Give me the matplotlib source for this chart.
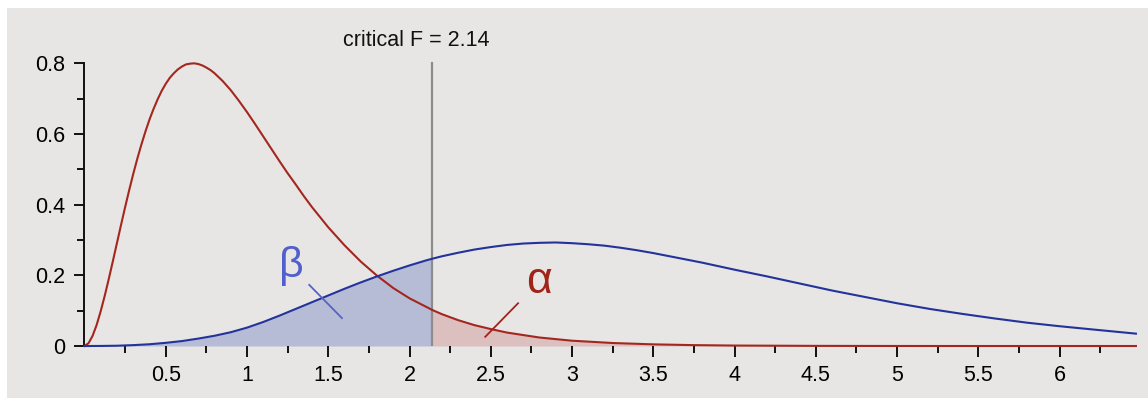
import numpy as np
import matplotlib
matplotlib.use("Agg")
import matplotlib.pyplot as plt
from matplotlib.patches import Rectangle
from matplotlib.ticker import FixedLocator

# null distribution (red) sampled along F
null_x = [0.0, 0.025, 0.05, 0.075, 0.1, 0.125, 0.15, 0.175, 0.2, 0.225, 0.25,
          0.275, 0.3, 0.325, 0.35, 0.375, 0.4, 0.425, 0.45, 0.475, 0.5, 0.525,
          0.55, 0.575, 0.6, 0.625, 0.65, 0.675, 0.7, 0.725, 0.75, 0.775, 0.8,
          0.85, 0.9, 0.95, 1.0, 1.05, 1.1, 1.15, 1.2, 1.25, 1.3, 1.35, 1.4, 1.5,
          1.6, 1.7, 1.8, 1.9, 2.0, 2.14, 2.2, 2.3, 2.4, 2.5, 2.6, 2.8, 3.0, 3.25,
          3.5, 3.75, 4.0, 4.5, 5.0, 5.5, 6.0, 6.47]
null_y = [0.0, 0.008, 0.029, 0.060, 0.099, 0.143, 0.191, 0.241, 0.292, 0.343,
          0.393, 0.441, 0.487, 0.530, 0.570, 0.607, 0.641, 0.671, 0.698, 0.722,
          0.742, 0.759, 0.772, 0.783, 0.791, 0.797, 0.799, 0.800, 0.798, 0.794,
          0.788, 0.781, 0.772, 0.750, 0.724, 0.694, 0.662, 0.628, 0.593, 0.558,
          0.523, 0.489, 0.457, 0.424, 0.393, 0.336, 0.285, 0.239, 0.199, 0.164,
          0.135, 0.102, 0.090, 0.073, 0.059, 0.048, 0.038, 0.024, 0.015, 0.0085,
          0.0047, 0.0025, 0.0013, 0.0004, 0.0001, 0.0, 0.0, 0.0]

# alternative distribution (blue)
alt_x = [0.0, 0.1, 0.2, 0.3, 0.4, 0.5, 0.6, 0.7, 0.8, 0.9, 1.0, 1.1, 1.2, 1.3,
         1.4, 1.5, 1.6, 1.7, 1.8, 1.9, 2.0, 2.1, 2.14, 2.2, 2.3, 2.4, 2.5, 2.6,
         2.7, 2.8, 2.9, 3.0, 3.1, 3.2, 3.3, 3.4, 3.5, 3.6, 3.7, 3.8, 3.9, 4.0,
         4.2, 4.4, 4.6, 4.8, 5.0, 5.2, 5.4, 5.6, 5.8, 6.0, 6.2, 6.47]
alt_y = [0.0, 0.0002, 0.0008, 0.0025, 0.005, 0.009, 0.014, 0.021, 0.029, 0.039,
         0.052, 0.068, 0.086, 0.105, 0.124, 0.143, 0.162, 0.180, 0.197, 0.213,
         0.228, 0.242, 0.247, 0.254, 0.264, 0.273, 0.280, 0.286, 0.290, 0.292,
         0.293, 0.291, 0.288, 0.284, 0.278, 0.271, 0.263, 0.254, 0.245, 0.236,
         0.226, 0.216, 0.197, 0.177, 0.157, 0.139, 0.121, 0.105, 0.091, 0.078,
         0.066, 0.056, 0.047, 0.035]

f_crit = 2.14
crit_label = "critical F = 2.14"

RED = "#a3271f"
BLUE = "#23339a"
BG = "#e7e6e5"
INK = "#111111"

plt.rcParams["font.family"] = ["Liberation Sans", "DejaVu Sans"]

fig = plt.figure(figsize=(11.48, 3.99), dpi=100, facecolor="white")
fig.patches.append(Rectangle((7 / 1148, 1 / 399), 1141 / 1148, 390 / 399,
                             transform=fig.transFigure, facecolor=BG,
                             edgecolor="none", zorder=-10))
ax = fig.add_axes([0.0736, 0.1328, 0.9159, 0.7218])
ax.set_facecolor("none")

nx, ny = np.array(null_x), np.array(null_y)
bx, by = np.array(alt_x), np.array(alt_y)

# beta: alternative below the critical value, alpha: null above it
ax.fill_between(bx, by, where=bx <= f_crit, color="#b7bcd6", lw=0, zorder=1)
ax.fill_between(nx, ny, where=nx >= f_crit, color="#dcc0bf", lw=0, zorder=1)

ax.plot([f_crit, f_crit], [0, 0.8], color="#8c8c8c", lw=1.6, zorder=2)
ax.plot(nx, ny, color=RED, lw=1.5, zorder=3, clip_on=False)
ax.plot(bx, by, color=BLUE, lw=1.5, zorder=4, clip_on=False)

ax.text(2.04, 0.864, crit_label, ha="center", va="center", fontsize=15.5,
        color=INK, clip_on=False)

ax.plot([1.383, 1.584], [0.173, 0.079], color="#5563c9", lw=1.3, zorder=5)
ax.text(1.27, 0.226, "β", ha="center", va="center", fontsize=31, color="#5060cc")
ax.plot([2.668, 2.466], [0.121, 0.026], color="#a0241a", lw=1.3, zorder=5)
ax.text(2.795, 0.183, "α", ha="center", va="center", fontsize=32, color="#a0241a")

ax.set_xlim(0, 6.47)
ax.set_ylim(0, 0.815)

for s in ["top", "right", "bottom"]:
    ax.spines[s].set_visible(False)
ax.spines["left"].set_bounds(0, 0.8)
ax.spines["left"].set_linewidth(1.4)
ax.spines["left"].set_color(INK)

ax.xaxis.set_major_locator(FixedLocator(np.arange(0.5, 6.01, 0.5)))
ax.xaxis.set_minor_locator(FixedLocator(np.arange(0.25, 6.3, 0.5)))
ax.set_xticklabels(["0.5", "1", "1.5", "2", "2.5", "3", "3.5", "4", "4.5", "5", "5.5", "6"])
ax.yaxis.set_major_locator(FixedLocator([0, 0.2, 0.4, 0.6, 0.8]))
ax.yaxis.set_minor_locator(FixedLocator([0.1, 0.3, 0.5, 0.7]))
ax.set_yticklabels(["0", "0.2", "0.4", "0.6", "0.8"])

ax.tick_params(axis="x", which="major", length=8, width=1.4, pad=6,
               labelsize=15.5, color=INK)
ax.tick_params(axis="x", which="minor", length=5, width=1.4, color=INK)
ax.tick_params(axis="y", which="major", length=7, width=1.4, pad=7,
               labelsize=15.5, color=INK)
ax.tick_params(axis="y", which="minor", length=5, width=1.4, color=INK)

fig.savefig("out.png", dpi=100, facecolor="white")
